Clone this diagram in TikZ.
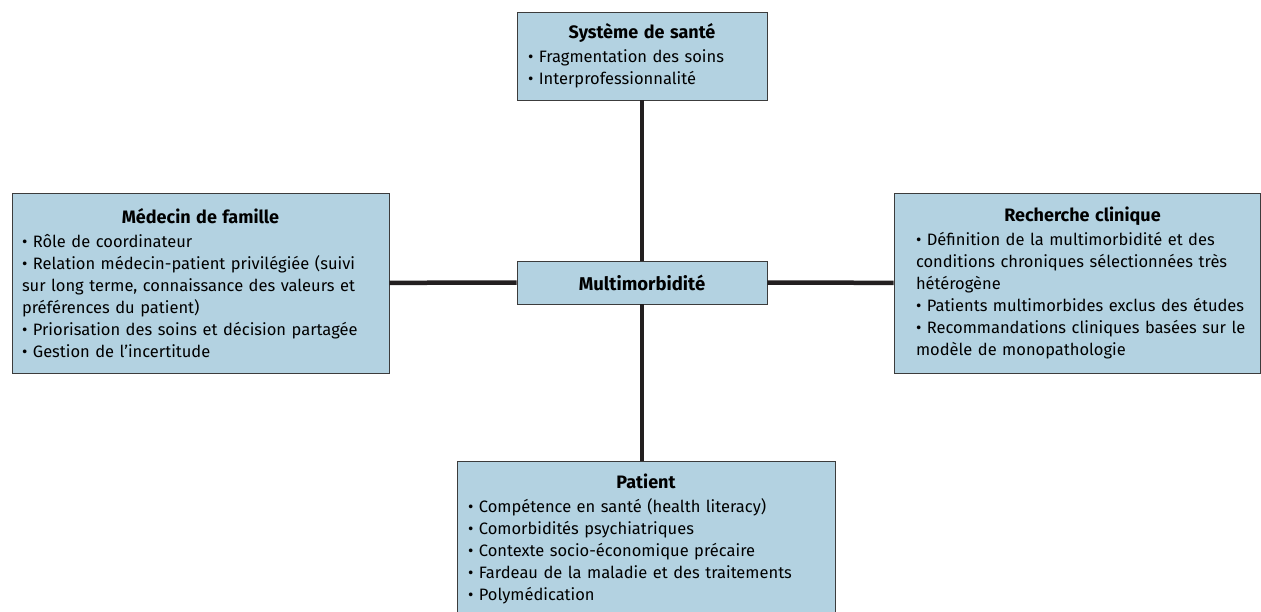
\documentclass[tikz,border=0pt]{standalone}
\usepackage{fontspec}
\setmainfont{Fira Sans}

\definecolor{boxblue}{RGB}{179,210,225}
\definecolor{boxline}{RGB}{60,60,60}
\definecolor{linkline}{RGB}{35,31,32}

\newcommand{\boxhead}[1]{{\centering\fontsize{18}{22}\selectfont\bfseries #1\par}\vspace{2pt}}
\newcommand{\puce}{\textbullet\ }

\begin{document}
\begin{tikzpicture}[x=1pt,y=-1pt,
  theme/.style={draw=boxline, line width=0.9pt, fill=boxblue, font=\fontsize{16.5}{22}\selectfont, align=left, inner ysep=0pt},
  link/.style={draw=linkline, line width=4.5pt}]
\clip (0,0) rectangle (1261,611);
\node[theme, minimum width=250pt, minimum height=88pt, text width=228pt, inner xsep=11pt] (sante) at (642,56)
  {\boxhead{Système de santé}\puce Fragmentation des soins\\ \puce Interprofessionnalité};
\node[theme, minimum width=250pt, minimum height=43pt, align=center, font=\fontsize{18.5}{22}\selectfont\bfseries] (multi) at (642,282.5) {Multimorbidité};
\node[theme, minimum width=377pt, minimum height=180pt, text width=357pt, inner xsep=10pt] (medecin) at (200.5,283)
  {\boxhead{Médecin de famille}\puce Rôle de coordinateur\\ \puce Relation médecin-patient privilégiée (suivi\\ sur long terme, connaissance des valeurs et\\ préférences du patient)\\ \puce Priorisation des soins et décision partagée\\ \puce Gestion de l’incertitude};
\node[theme, minimum width=366pt, minimum height=180pt, text width=344pt, inner xsep=11pt] (recherche) at (1077,283)
  {\hspace*{11pt}\parbox[t]{333pt}{\raggedright\boxhead{Recherche clinique}\puce Définition de la multimorbidité et des\\ conditions chroniques sélectionnées très\\ hétérogène\\ \puce Patients multimorbides exclus des études\\ \puce Recommandations cliniques basées sur le\\ modèle de monopathologie}};
\node[theme, minimum width=378pt, minimum height=156pt, text width=356pt, inner xsep=11pt] (patient) at (646,539)
  {\boxhead{Patient}\puce Compétence en santé (health literacy)\\ \puce Comorbidités psychiatriques\\ \puce Contexte socio-économique précaire\\ \puce Fardeau de la maladie et des traitements\\ \puce Polymédication};

\draw[link] (sante) -- (multi);
\draw[link] (multi) -- (multi |- patient.north);
\draw[link] (medecin) -- (multi);
\draw[link] (multi) -- (recherche);

\end{tikzpicture}
\end{document}
